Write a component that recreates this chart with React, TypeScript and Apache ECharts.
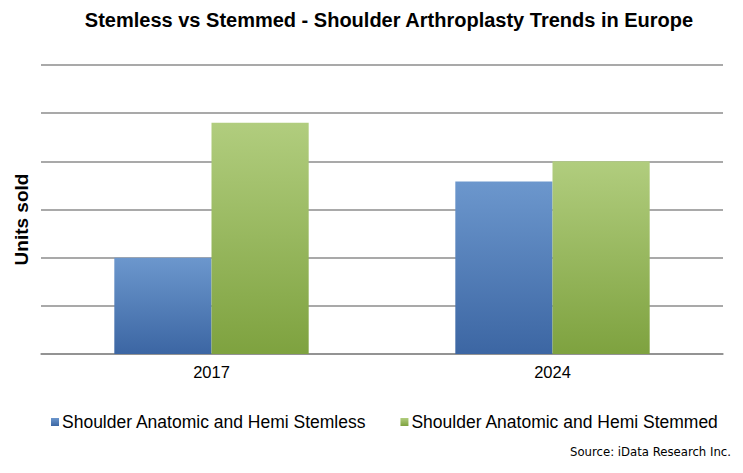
import React, { useEffect, useRef } from "react";
import * as echarts from "echarts";

const categories = ["2017", "2024"];
const stemless = [2.0, 3.58];
const stemmed = [4.8, 4.0];
const seriesNames = [
  "Shoulder Anatomic and Hemi Stemless",
  "Shoulder Anatomic and Hemi Stemmed",
];

export default function App() {
  const ref = useRef<HTMLDivElement>(null);
  useEffect(() => {
    if (!ref.current) return;
    const chart = echarts.init(ref.current, null, { renderer: "svg" });
    const grad = (top: string, bottom: string) =>
      new echarts.graphic.LinearGradient(0, 0, 0, 1, [
        { offset: 0, color: top },
        { offset: 1, color: bottom },
      ]);
    chart.setOption({
      animation: false,
      backgroundColor: "#ffffff",
      title: {
        text: "Stemless vs Stemmed - Shoulder Arthroplasty Trends in Europe",
        left: 384,
        textAlign: "center",
        top: 5,
        textStyle: {
          fontFamily: "Liberation Sans",
          fontWeight: "bold",
          fontSize: 20,
          color: "#000000",
        },
      },
      legend: {
        left: 46,
        top: 408,
        icon: "rect",
        itemWidth: 8,
        itemHeight: 8,
        itemGap: 34,
        textStyle: {
          fontFamily: "Liberation Sans",
          fontSize: 17.5,
          color: "#000000",
          padding: [0, 0, 0, -2],
        },
        data: seriesNames,
      },
      graphic: [
        {
          type: "text",
          right: 12,
          top: 445,
          style: {
            text: "Source: iData Research Inc.",
            font: "13px 'DejaVu Sans Condensed', 'Liberation Sans'",
            fill: "#000000",
          },
        },
      ],
      grid: {
        left: 41,
        right: 20,
        top: 65,
        bottom: 119,
        containLabel: false,
        outerBoundsMode: "none",
      },
      xAxis: {
        type: "category",
        data: categories,
        axisTick: { show: false },
        axisLine: { lineStyle: { color: "#8c8c8c", width: 1.5 } },
        axisLabel: {
          fontFamily: "Liberation Sans",
          fontSize: 16.5,
          color: "#000000",
          margin: 9,
        },
      },
      yAxis: {
        type: "value",
        min: 0,
        max: 6,
        interval: 1,
        axisLabel: { show: false },
        axisLine: { show: false },
        axisTick: { show: false },
        splitLine: { lineStyle: { color: "#8c8c8c", width: 1.5 } },
        name: "Units sold",
        nameLocation: "middle",
        nameGap: 10,
        nameRotate: 90,
        nameTextStyle: {
          fontFamily: "Liberation Sans",
          fontWeight: "bold",
          fontSize: 19,
          color: "#000000",
          padding: [0, 20, 0, 0],
        },
      },
      series: [
        {
          name: seriesNames[0],
          type: "bar",
          data: stemless,
          barGap: "0%",
          barCategoryGap: "43%",
          itemStyle: { color: grad("#6c97cd", "#3c66a3") },
        },
        {
          name: seriesNames[1],
          type: "bar",
          data: stemmed,
          itemStyle: { color: grad("#b1cd7e", "#7ea23f") },
        },
      ],
    });
    return () => chart.dispose();
  }, []);
  return <div ref={ref} style={{ width: 743, height: 473, margin: -8 }} />;
}
